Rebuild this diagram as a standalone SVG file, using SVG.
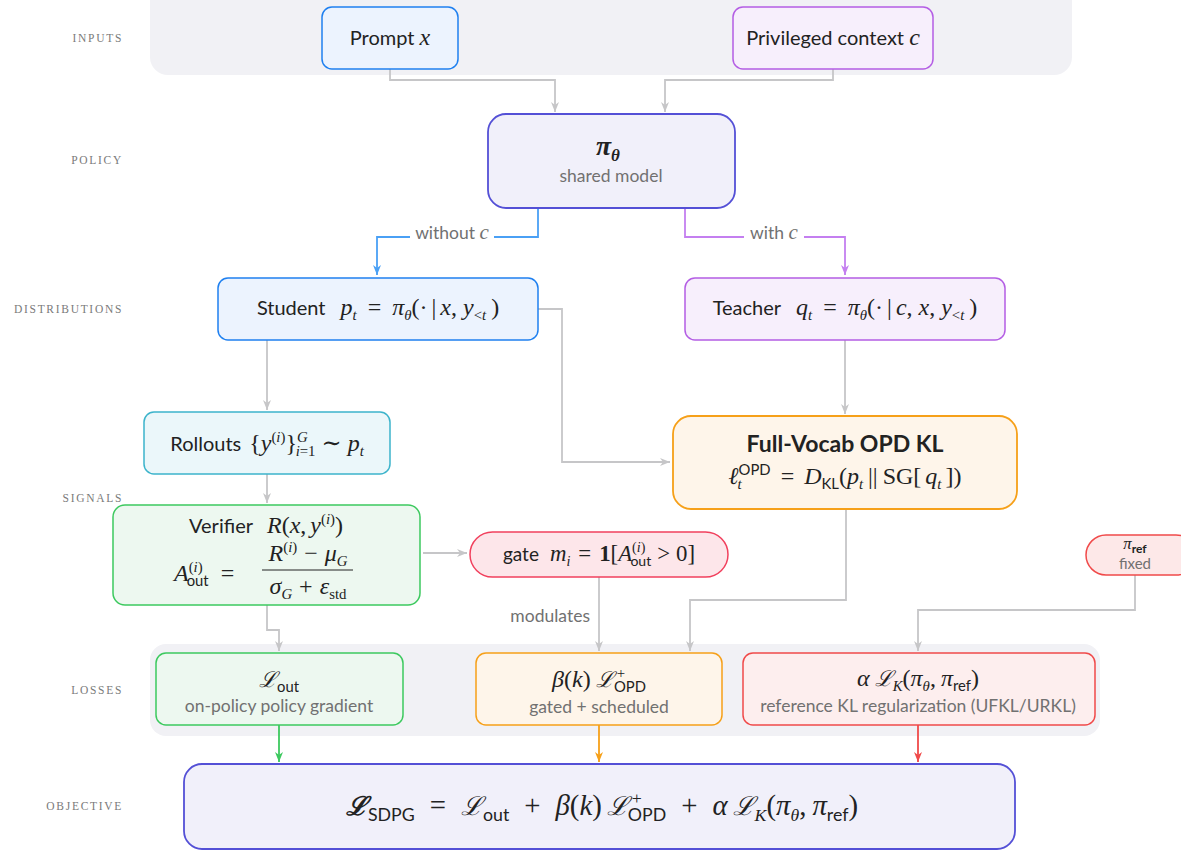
<svg xmlns="http://www.w3.org/2000/svg" width="1181" height="851" viewBox="0 0 1181 851">
<defs>
<style>
.band{fill:#f1f1f5}
.con{fill:none;stroke:#c6c6c8;stroke-width:1.8}
.t{font-family:Lato,"Liberation Sans",sans-serif;font-size:20px;fill:#222}
.m{font-family:"Liberation Serif","DejaVu Serif",serif;font-style:italic;font-size:1.2em}
.r{font-family:"Liberation Serif","DejaVu Serif",serif;font-style:normal;font-size:1.2em}
.L{font-family:"DejaVu Serif","Liberation Serif",serif;font-style:italic;font-size:1.08em}
.ss{font-family:Lato,"Liberation Sans",sans-serif;font-style:normal}
.sb{font-size:0.74em;baseline-shift:-0.35em}
.sp{font-size:0.74em;baseline-shift:0.62em}
.g{font-family:Lato,"Liberation Sans",sans-serif;font-size:17.5px;fill:#717171}
.lane{font-family:"Liberation Serif",serif;font-size:11.5px;fill:#7a7a7a;letter-spacing:1.7px;text-anchor:end}
.blue{fill:#ecf3fe;stroke:#1f80f0;stroke-width:1.5}
.purple{fill:#f7effc;stroke:#b45ee4;stroke-width:1.5}
.indigo{fill:#f1f0fa;stroke:#5450d6;stroke-width:1.8}
.teal{fill:#ebf7fa;stroke:#3db4cb;stroke-width:1.5}
.orange{fill:#fef5ea;stroke:#f6a019;stroke-width:1.8}
.green{fill:#edf8f0;stroke:#3dc95f;stroke-width:1.5}
.rose{fill:#fde6ea;stroke:#f1405d;stroke-width:1.5}
.red{fill:#fdeeee;stroke:#f04a4a;stroke-width:1.5}
</style>
<marker id="ag" viewBox="0 0 10 8" refX="10" refY="4" markerWidth="10" markerHeight="8" markerUnits="userSpaceOnUse" orient="auto"><path d="M0,0 L10,4 L0,8 L3,4 z" fill="#c6c6c8"/></marker>
<marker id="ab" viewBox="0 0 10 8" refX="10" refY="4" markerWidth="10" markerHeight="8" markerUnits="userSpaceOnUse" orient="auto"><path d="M0,0 L10,4 L0,8 L3,4 z" fill="#4aa0f5"/></marker>
<marker id="ap" viewBox="0 0 10 8" refX="10" refY="4" markerWidth="10" markerHeight="8" markerUnits="userSpaceOnUse" orient="auto"><path d="M0,0 L10,4 L0,8 L3,4 z" fill="#c47ff0"/></marker>
<marker id="agr" viewBox="0 0 10 8" refX="10" refY="4" markerWidth="10" markerHeight="8" markerUnits="userSpaceOnUse" orient="auto"><path d="M0,0 L10,4 L0,8 L3,4 z" fill="#3dc95f"/></marker>
<marker id="aor" viewBox="0 0 10 8" refX="10" refY="4" markerWidth="10" markerHeight="8" markerUnits="userSpaceOnUse" orient="auto"><path d="M0,0 L10,4 L0,8 L3,4 z" fill="#f6a019"/></marker>
<marker id="ard" viewBox="0 0 10 8" refX="10" refY="4" markerWidth="10" markerHeight="8" markerUnits="userSpaceOnUse" orient="auto"><path d="M0,0 L10,4 L0,8 L3,4 z" fill="#f04a4a"/></marker>
</defs>
<rect width="1181" height="851" fill="#ffffff"/>

<g id="lanes">
<rect class="band" x="150" y="-20" width="922" height="95" rx="18"/>
<rect class="band" x="150" y="644" width="950" height="92" rx="16"/>
<text class="lane" x="123" y="42">INPUTS</text>
<text class="lane" x="123" y="164">POLICY</text>
<text class="lane" x="123" y="313">DISTRIBUTIONS</text>
<text class="lane" x="123" y="502">SIGNALS</text>
<text class="lane" x="123" y="694">LOSSES</text>
<text class="lane" x="123" y="810">OBJECTIVE</text>
</g>

<g id="connectors">
<path class="con" d="M390,69 V80 H555 V112" marker-end="url(#ag)"/>
<path class="con" d="M833,69 V80 H665 V112" marker-end="url(#ag)"/>
<path fill="none" stroke="#4aa0f5" stroke-width="1.8" d="M538,208 V237 H377 V275" marker-end="url(#ab)"/>
<path fill="none" stroke="#c47ff0" stroke-width="1.8" d="M685,208 V237 H845 V275" marker-end="url(#ap)"/>
<rect x="410" y="226" width="84" height="20" fill="#ffffff"/>
<text class="g" x="452" y="239" text-anchor="middle">without <tspan class="m">c</tspan></text>
<rect x="744" y="226" width="60" height="20" fill="#ffffff"/>
<text class="g" x="774" y="239" text-anchor="middle">with <tspan class="m">c</tspan></text>
<path class="con" d="M538,309 H562 V462 H670" marker-end="url(#ag)"/>
<path class="con" d="M267,340 V410" marker-end="url(#ag)"/>
<path class="con" d="M845,340 V414" marker-end="url(#ag)"/>
<path class="con" d="M267,474 V503" marker-end="url(#ag)"/>
<path class="con" d="M423,553 H467" marker-end="url(#ag)"/>
<path class="con" d="M599,577 V651" marker-end="url(#ag)"/>
<text class="g" x="590" y="622" text-anchor="end">modulates</text>
<path class="con" d="M846,509 V600 H690 V651" marker-end="url(#ag)"/>
<path class="con" d="M267,605 V630 H279 V651" marker-end="url(#ag)"/>
<path class="con" d="M1135,575 V610 H918 V651" marker-end="url(#ag)"/>
<path fill="none" stroke="#3dc95f" stroke-width="1.8" d="M279,725 V762" marker-end="url(#agr)"/>
<path fill="none" stroke="#f6a019" stroke-width="1.8" d="M599,725 V762" marker-end="url(#aor)"/>
<path fill="none" stroke="#f04a4a" stroke-width="1.8" d="M918,725 V762" marker-end="url(#ard)"/>
</g>

<g id="prompt">
<rect class="blue" x="322" y="7" width="136" height="62" rx="10"/>
<text class="t" x="390" y="45" text-anchor="middle">Prompt <tspan class="m">x</tspan></text>
</g>

<g id="privileged">
<rect class="purple" x="733" y="7" width="200" height="62" rx="10"/>
<text class="t" x="833" y="45" text-anchor="middle">Privileged context <tspan class="m">c</tspan></text>
</g>

<g id="policy">
<rect class="indigo" x="488" y="114" width="247" height="94" rx="18"/>
<text class="t" x="608" y="155" text-anchor="middle" style="font-size:23px"><tspan class="m" font-weight="bold">π</tspan><tspan class="m sb" font-weight="bold">θ</tspan></text>
<text class="g" x="611" y="182" text-anchor="middle">shared model</text>
</g>

<g id="student">
<rect class="blue" x="218" y="278" width="320" height="62" rx="10"/>
<text class="t" x="378" y="315" text-anchor="middle">Student<tspan class="m" dx="15">p</tspan><tspan class="m sb">t</tspan><tspan class="r" dx="11">=</tspan><tspan class="m" dx="11">π</tspan><tspan class="m sb">θ</tspan><tspan class="r">(·</tspan><tspan class="r" dx="4">|</tspan><tspan class="m" dx="4">x</tspan><tspan class="r">,</tspan><tspan class="m" dx="6">y</tspan><tspan class="r sb">&lt;</tspan><tspan class="m sb">t</tspan><tspan class="r" dx="5">)</tspan></text>
</g>

<g id="teacher">
<rect class="purple" x="685" y="278" width="320" height="62" rx="10"/>
<text class="t" x="845" y="315" text-anchor="middle">Teacher<tspan class="m" dx="15">q</tspan><tspan class="m sb">t</tspan><tspan class="r" dx="11">=</tspan><tspan class="m" dx="11">π</tspan><tspan class="m sb">θ</tspan><tspan class="r">(·</tspan><tspan class="r" dx="4">|</tspan><tspan class="m" dx="4">c</tspan><tspan class="r">,</tspan><tspan class="m" dx="6">x</tspan><tspan class="r">,</tspan><tspan class="m" dx="6">y</tspan><tspan class="r sb">&lt;</tspan><tspan class="m sb">t</tspan><tspan class="r" dx="5">)</tspan></text>
</g>

<g id="rollouts">
<rect class="teal" x="144" y="412" width="246" height="62" rx="10"/>
<text class="t" x="267" y="451" text-anchor="middle">Rollouts<tspan class="r" dx="8">{</tspan><tspan class="m">y</tspan><tspan class="r sp">(</tspan><tspan class="m sp">i</tspan><tspan class="r sp">)</tspan><tspan class="r">}</tspan><tspan class="m sp">G</tspan><tspan class="m sb" dx="-12">i</tspan><tspan class="r sb">=1</tspan><tspan class="r" dx="6">∼</tspan><tspan class="m" dx="6">p</tspan><tspan class="m sb">t</tspan></text>
</g>

<g id="fullvocab">
<rect class="orange" x="673" y="416" width="344" height="93" rx="18"/>
<text class="t" x="845" y="452" text-anchor="middle" font-weight="bold" style="font-size:23px">Full-Vocab OPD KL</text>
<text class="t" x="845" y="484" text-anchor="middle"><tspan class="m">ℓ</tspan><tspan class="ss sp">OPD</tspan><tspan class="m sb" dx="-33">t</tspan><tspan class="r" dx="39">=</tspan><tspan class="m" dx="10">D</tspan><tspan class="ss sb">KL</tspan><tspan class="r">(</tspan><tspan class="m">p</tspan><tspan class="m sb">t</tspan><tspan class="r" dx="5">||</tspan><tspan class="r" dx="5">SG[</tspan><tspan class="m" dx="4">q</tspan><tspan class="m sb">t</tspan><tspan class="r" dx="4">])</tspan></text>
</g>

<g id="verifier">
<rect class="green" x="113" y="505" width="307" height="100" rx="12"/>
<text class="t" x="266" y="533" text-anchor="middle">Verifier<tspan class="m" dx="14">R</tspan><tspan class="r">(</tspan><tspan class="m">x</tspan><tspan class="r">,</tspan><tspan class="m" dx="4">y</tspan><tspan class="r sp">(</tspan><tspan class="m sp">i</tspan><tspan class="r sp">)</tspan><tspan class="r">)</tspan></text>
<text class="t" x="174" y="581"><tspan class="m">A</tspan><tspan class="r sp">(</tspan><tspan class="m sp">i</tspan><tspan class="r sp">)</tspan><tspan class="ss sb" dx="-16">out</tspan><tspan class="r" dx="12">=</tspan></text>
<text class="t" x="308" y="561" text-anchor="middle"><tspan class="m">R</tspan><tspan class="r sp">(</tspan><tspan class="m sp">i</tspan><tspan class="r sp">)</tspan><tspan class="r" dx="7">−</tspan><tspan class="m" dx="7">μ</tspan><tspan class="m sb">G</tspan></text>
<line x1="262" y1="570" x2="353" y2="570" stroke="#222" stroke-width="1"/>
<text class="t" x="308" y="594" text-anchor="middle"><tspan class="m">σ</tspan><tspan class="m sb">G</tspan><tspan class="r" dx="7">+</tspan><tspan class="m" dx="7">ε</tspan><tspan class="r sb">std</tspan></text>
</g>

<g id="gate">
<rect class="rose" x="470" y="532" width="258" height="45" rx="22.5"/>
<text class="t" x="599" y="561" text-anchor="middle" style="font-size:19px">gate<tspan class="m" dx="11">m</tspan><tspan class="m sb">i</tspan><tspan class="r" dx="8">=</tspan><tspan class="r" dx="8" font-weight="bold">1</tspan><tspan class="r">[</tspan><tspan class="m">A</tspan><tspan class="r sp">(</tspan><tspan class="m sp">i</tspan><tspan class="r sp">)</tspan><tspan class="ss sb" dx="-15">out</tspan><tspan class="r" dx="6">&gt;</tspan><tspan class="r" dx="6">0</tspan><tspan class="r">]</tspan></text>
</g>

<g id="piref">
<rect class="red" x="1086" y="535" width="110" height="40" rx="20" style="fill:#fde8e8"/>
<text class="t" x="1135" y="549" text-anchor="middle" style="font-size:14px"><tspan class="m">π</tspan><tspan class="ss sb" font-weight="bold" style="font-size:12px">ref</tspan></text>
<text class="g" x="1135" y="569" text-anchor="middle" style="font-size:15px">fixed</text>
</g>

<g id="lout">
<rect class="green" x="156" y="653" width="247" height="72" rx="10"/>
<text class="t" x="279" y="687" text-anchor="middle"><tspan class="L">ℒ</tspan><tspan class="ss sb">out</tspan></text>
<text class="g" x="279" y="712" text-anchor="middle">on-policy policy gradient</text>
</g>

<g id="lopd">
<rect class="orange" x="476" y="653" width="246" height="72" rx="10" style="stroke-width:1.5"/>
<text class="t" x="599" y="687" text-anchor="middle"><tspan class="m">β</tspan><tspan class="r">(</tspan><tspan class="m">k</tspan><tspan class="r">)</tspan><tspan class="L" dx="5">ℒ</tspan><tspan class="r sp" dx="3">+</tspan><tspan class="ss sb" dx="-11">OPD</tspan></text>
<text class="g" x="599" y="713" text-anchor="middle">gated + scheduled</text>
</g>

<g id="lref">
<rect class="red" x="743" y="653" width="352" height="72" rx="10"/>
<text class="t" x="918" y="686" text-anchor="middle"><tspan class="m">α</tspan><tspan class="L" dx="5">ℒ</tspan><tspan class="m sb">K</tspan><tspan class="r">(</tspan><tspan class="m">π</tspan><tspan class="m sb">θ</tspan><tspan class="r">,</tspan><tspan class="m" dx="5">π</tspan><tspan class="ss sb">ref</tspan><tspan class="r">)</tspan></text>
<text class="g" x="918" y="712" text-anchor="middle">reference KL regularization (UFKL/URKL)</text>
</g>

<g id="objective">
<rect class="indigo" x="184" y="764" width="831" height="85" rx="18"/>
<text class="t" x="602" y="815" text-anchor="middle" style="font-size:24px"><tspan class="L" font-weight="bold">ℒ</tspan><tspan class="ss sb">SDPG</tspan><tspan class="r" dx="15">=</tspan><tspan class="L" dx="15">ℒ</tspan><tspan class="ss sb">out</tspan><tspan class="r" dx="15">+</tspan><tspan class="m" dx="15">β</tspan><tspan class="r">(</tspan><tspan class="m">k</tspan><tspan class="r">)</tspan><tspan class="L" dx="5">ℒ</tspan><tspan class="r sp" dx="3">+</tspan><tspan class="ss sb" dx="-14">OPD</tspan><tspan class="r" dx="15">+</tspan><tspan class="m" dx="15">α</tspan><tspan class="L" dx="5">ℒ</tspan><tspan class="m sb">K</tspan><tspan class="r">(</tspan><tspan class="m">π</tspan><tspan class="m sb">θ</tspan><tspan class="r">,</tspan><tspan class="m" dx="6">π</tspan><tspan class="ss sb">ref</tspan><tspan class="r">)</tspan></text>
</g>
</svg>
